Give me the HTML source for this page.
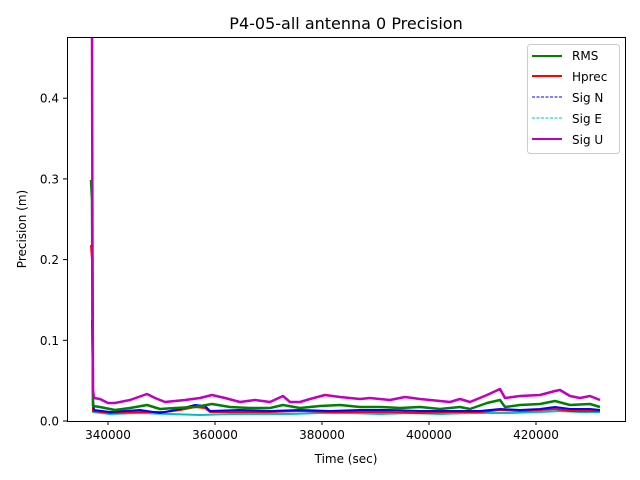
<!DOCTYPE html>
<html><head><style>
body{margin:0;background:#fff;}
svg{display:block;font-family:"DejaVu Sans","Liberation Sans",sans-serif;}
</style></head><body>
<svg width="640" height="480" viewBox="0 0 640 480">
<rect width="640" height="480" fill="#fff"/>
<text x="346" y="29" font-size="16" text-anchor="middle" fill="#000">P4-05-all antenna 0 Precision</text>
<g fill="none" stroke-linejoin="round">
<polyline stroke="#00bfbf" stroke-width="2" points="92,300 93,412 110,414 140,413 170,414 200,415 230,414 260,414 290,414 320,413 350,413 380,414 410,413 440,414 470,413 490,413 510,413 540,412 560,411 580,412 600,412"/>
<polyline stroke="#ff0000" stroke-width="2" points="91,245 92,260 93,411 110,413 140,412 165,412 180,410 195,407 205,408 210,412 240,412 270,412 300,411 330,412 360,412 390,412 420,413 450,412 480,412 500,410 520,411 540,410 555,409 570,411 590,411 600,411"/>
<polyline stroke="#0000ff" stroke-width="2" points="92,320 93,400 94,410 110,412 140,410 160,413 180,409 195,405 205,406 210,411 240,410 270,411 300,410 330,411 360,410 390,410 420,411 450,411 480,411 500,409 520,410 540,409 555,407 570,409 590,409 600,410"/>
<polyline stroke="#008000" stroke-width="2.5" points="91,180 92,200 93,406 100,407 115,410 130,408 147,405 160,409 175,408 195,407 212,404 230,407 250,408 270,408 283,405 300,408 320,406 340,405 360,407 380,407 400,408 420,407 440,409 460,407 470,409 487,403 500,400 505,407 520,405 540,404 555,401 570,405 590,404 600,407"/>
<polyline stroke="#bf00bf" stroke-width="2.5" points="92,37 92.5,250 93,390 94,398 100,399 108,403 115,403 130,400 147,394 155,398 165,402 185,400 200,398 212,395 225,398 240,402 255,400 270,402 283,396 290,402 300,402 310,399 325,395 340,397 360,399 370,398 390,400 405,397 420,399 440,401 450,402 460,399 470,402 487,395 500,389 505,398 520,396 540,395 555,391 560,390 570,396 580,398 590,396 600,400"/>
</g>
<rect x="67.5" y="37.5" width="558" height="384" fill="none" stroke="#000" stroke-width="1"/>
<g stroke="#000" stroke-width="1">
<line x1="108" y1="421" x2="108" y2="425"/><line x1="215" y1="421" x2="215" y2="425"/><line x1="322" y1="421" x2="322" y2="425"/><line x1="429" y1="421" x2="429" y2="425"/><line x1="536" y1="421" x2="536" y2="425"/>
<line x1="63" y1="421" x2="67" y2="421"/><line x1="63" y1="340.3" x2="67" y2="340.3"/><line x1="63" y1="259.6" x2="67" y2="259.6"/><line x1="63" y1="178.9" x2="67" y2="178.9"/><line x1="63" y1="98.2" x2="67" y2="98.2"/>
</g>
<g font-size="12" fill="#000" text-anchor="middle">
<text x="108" y="439">340000</text><text x="215" y="439">360000</text><text x="322" y="439">380000</text><text x="429" y="439">400000</text><text x="536" y="439">420000</text>
<text x="346" y="463">Time (sec)</text>
</g>
<g font-size="12" fill="#000" text-anchor="end">
<text x="59" y="425.5">0.0</text><text x="59" y="344.8">0.1</text><text x="59" y="264.1">0.2</text><text x="59" y="183.4">0.3</text><text x="59" y="102.7">0.4</text>
</g>
<text transform="translate(26,229) rotate(-90)" font-size="12" text-anchor="middle">Precision (m)</text>
<rect x="527.5" y="44.5" width="92" height="109" rx="3" fill="#fff" fill-opacity="0.8" stroke="#ccc"/>
<g stroke-width="2">
<line x1="532" y1="56" x2="562" y2="56" stroke="#008000"/>
<line x1="532" y1="76" x2="562" y2="76" stroke="#ff0000"/>
<line x1="532" y1="97" x2="562" y2="97" stroke="#0000ff" stroke-width="1" stroke-dasharray="3,1.5"/>
<line x1="532" y1="118" x2="562" y2="118" stroke="#00bfbf" stroke-width="1" stroke-dasharray="3,1.5"/>
<line x1="532" y1="139" x2="562" y2="139" stroke="#bf00bf"/>
</g>
<g font-size="12" fill="#000">
<text x="572" y="60">RMS</text><text x="572" y="81">Hprec</text><text x="572" y="102">Sig N</text><text x="572" y="123">Sig E</text><text x="572" y="144">Sig U</text>
</g>
</svg>
</body></html>
